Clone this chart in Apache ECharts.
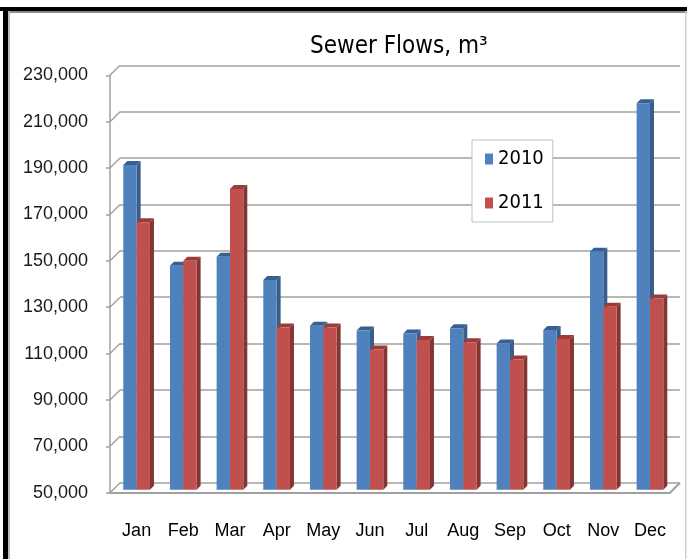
<!DOCTYPE html>
<html>
<head>
<meta charset="utf-8">
<script src="https://cdn.jsdelivr.net/npm/echarts@6/dist/echarts.min.js"></script>
<style>
html,body{margin:0;padding:0;background:#fff;}
#chart{width:687px;height:559px;}
</style>
</head>
<body>
<div id="chart"></div>
<script>
const categories = ['Jan','Feb','Mar','Apr','May','Jun','Jul','Aug','Sep','Oct','Nov','Dec'];
const flows2010 = [190000, 146600, 150500, 140400, 120700, 118600, 117400, 119600, 113100, 118900, 152600, 216700];
const flows2011 = [165300, 148700, 179700, 120000, 120000, 110500, 114600, 113600, 106200, 115000, 128900, 132500];
const yTicks = [50000, 70000, 90000, 110000, 130000, 150000, 170000, 190000, 210000, 230000];
const seriesNames = ['2010', '2011'];

const Y_MIN = 50000, Y_MAX = 230000, Y_STEP = 20000;
const PLOT_W = 560, PLOT_H = 417.4;
const DEPTH = 10, BAR_DEPTH = 4;

const faceColors = [
  {front: '#4f81bd', side: '#385d8a', top: '#375f92'},
  {front: '#c0504d', side: '#843532', top: '#9c3b38'}
];

const chart = echarts.init(document.getElementById('chart'), null, {renderer: 'canvas'});

function fmt(v) { return v.toLocaleString('en-US'); }

function barRender(sIdx) {
  return function (params, api) {
    const ci = api.value(0), v = api.value(1);
    const top = api.coord([ci, v]);
    const base = api.coord([ci, Y_MIN]);
    const band = api.size([1, 0])[0];
    const w = band * 0.2857;
    const x0 = sIdx === 0 ? top[0] - w : top[0];
    const x1 = x0 + w;
    const yt = top[1], yb = base[1];
    const d = BAR_DEPTH;
    const c = faceColors[sIdx];
    return {
      type: 'group',
      children: [
        {type: 'polygon', shape: {points: [[x1, yt], [x1 + d, yt - d], [x1 + d, yb - d], [x1, yb]]}, style: {fill: c.side}},
        {type: 'polygon', shape: {points: [[x0, yt], [x0 + d, yt - d], [x1 + d, yt - d], [x1, yt]]}, style: {fill: c.top}},
        {type: 'rect', shape: {x: x0, y: yt, width: w, height: yb - yt}, style: {fill: c.front}}
      ]
    };
  };
}

function connectorRender(params, api) {
  const cs = params.coordSys;
  const v = api.value(1);
  const y = api.coord([0, v])[1];
  const children = [
    {type: 'line', shape: {x1: cs.x, y1: y, x2: cs.x - DEPTH, y2: y + DEPTH}, style: {stroke: '#a0a0a0', lineWidth: 1.5}}
  ];
  if (v === Y_MIN) {
    const xr = cs.x + cs.width;
    children.push({type: 'line', shape: {x1: xr, y1: y, x2: xr - DEPTH, y2: y + DEPTH}, style: {stroke: '#a0a0a0', lineWidth: 2}});
  }
  return {type: 'group', children: children};
}

const axisFont = "'Liberation Sans', Arial, sans-serif";
const narrowFont = "'DejaVu Sans Condensed', 'Liberation Sans', sans-serif";

const option = {
  animation: false,
  backgroundColor: '#ffffff',
  title: {
    text: 'Sewer Flows, m³',
    left: 305, top: 30,
    textStyle: {fontFamily: narrowFont, fontSize: 24, fontWeight: 'normal', color: '#000'}
  },
  legend: {
    data: seriesNames,
    orient: 'vertical',
    left: 472, top: 140,
    padding: [9, 9, 9, 13],
    itemGap: 24,
    itemWidth: 8, itemHeight: 11,
    icon: 'rect',
    backgroundColor: '#ffffff',
    borderColor: '#bfbfbf', borderWidth: 1,
    textStyle: {fontFamily: narrowFont, fontSize: 20, color: '#000'},
    z: 10
  },
  grid: [
    {left: 120, top: 75.3 - DEPTH, width: PLOT_W, height: PLOT_H},
    {left: 110, top: 75.3, width: PLOT_W, height: PLOT_H},
    {left: 113.3, top: 72.3, width: PLOT_W, height: PLOT_H}
  ],
  xAxis: [
    {type: 'category', gridIndex: 0, data: categories, show: false},
    {type: 'category', gridIndex: 1, data: categories,
      axisLine: {show: true, lineStyle: {color: '#a0a0a0', width: 2}},
      axisTick: {show: false}, axisLabel: {show: false}},
    {type: 'category', gridIndex: 2, data: categories,
      axisLine: {show: false}, axisTick: {show: false},
      axisLabel: {show: true, margin: 32, fontFamily: axisFont, fontSize: 18, color: '#000'}}
  ],
  yAxis: [
    {type: 'value', gridIndex: 0, min: Y_MIN, max: Y_MAX, interval: Y_STEP,
      axisLine: {show: false}, axisTick: {show: false}, axisLabel: {show: false},
      splitLine: {show: true, lineStyle: {color: '#a0a0a0', width: 1.5}}},
    {type: 'value', gridIndex: 1, min: Y_MIN, max: Y_MAX, interval: Y_STEP,
      axisLine: {show: true, lineStyle: {color: '#a0a0a0', width: 1.5}},
      axisTick: {show: true, length: 4, lineStyle: {color: '#a0a0a0', width: 1.5}},
      axisLabel: {show: true, margin: 22, fontFamily: axisFont, fontSize: 18, color: '#1a1a1a', formatter: fmt},
      splitLine: {show: false}},
    {type: 'value', gridIndex: 2, min: Y_MIN, max: Y_MAX, interval: Y_STEP, show: false}
  ],
  series: [
    {type: 'custom', name: 'connectors', xAxisIndex: 0, yAxisIndex: 0,
      data: yTicks.map(v => [0, v]), renderItem: connectorRender, silent: true, z: 1},
    {type: 'custom', name: seriesNames[0], xAxisIndex: 2, yAxisIndex: 2,
      itemStyle: {color: faceColors[0].front},
      data: flows2010.map((v, i) => [i, v]), encode: {x: 0, y: 1}, renderItem: barRender(0), z: 3},
    {type: 'custom', name: seriesNames[1], xAxisIndex: 2, yAxisIndex: 2,
      itemStyle: {color: faceColors[1].front},
      data: flows2011.map((v, i) => [i, v]), encode: {x: 0, y: 1}, renderItem: barRender(1), z: 3}
  ],
  graphic: [
    {type: 'rect', shape: {x: 0, y: 7, width: 687, height: 4}, style: {fill: '#000'}, z: 100},
    {type: 'rect', shape: {x: 8, y: 11, width: 679, height: 2}, style: {fill: '#8a8a8a'}, z: 100},
    {type: 'rect', shape: {x: 3, y: 7, width: 5, height: 552}, style: {fill: '#000'}, z: 100},
    {type: 'rect', shape: {x: 8, y: 11, width: 2, height: 548}, style: {fill: '#bdbdbd'}, z: 100},
    {type: 'rect', shape: {x: 685, y: 11, width: 1.5, height: 548}, style: {fill: '#d0d0d0'}, z: 100}
  ]
};

chart.setOption(option);
</script>
</body>
</html>
